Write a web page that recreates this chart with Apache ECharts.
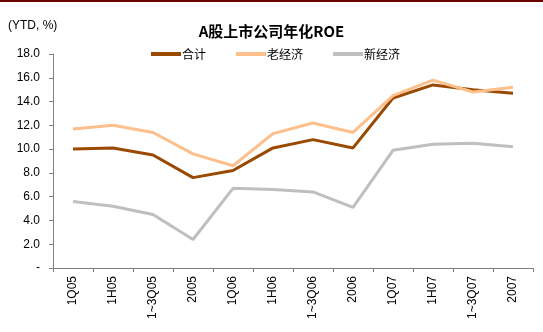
<!DOCTYPE html>
<html>
<head>
<meta charset="utf-8">
<script src="https://cdn.jsdelivr.net/npm/echarts@6/dist/echarts.min.js"></script>
<style>
  html, body { margin: 0; padding: 0; background: #fff; }
  #chart { width: 543px; height: 332px; }
</style>
</head>
<body>
<div id="chart"></div>
<script>
// Periods (year-to-date)
var categories = ['1Q05', '1H05', '1~3Q05', '2005', '1Q06', '1H06', '1~3Q06', '2006', '1Q07', '1H07', '1~3Q07', '2007'];

// Annualised ROE, %
var totalRoe = [10.0, 10.1, 9.5, 7.6, 8.2, 10.1, 10.8, 10.1, 14.3, 15.4, 15.0, 14.7];
var oldEconomyRoe = [11.7, 12.0, 11.4, 9.6, 8.6, 11.3, 12.2, 11.4, 14.5, 15.8, 14.8, 15.2];
var newEconomyRoe = [5.6, 5.2, 4.5, 2.4, 6.7, 6.6, 6.4, 5.1, 9.9, 10.4, 10.5, 10.2];

var seriesNames = ['合计', '老经济', '新经济'];
var seriesColors = ['#994a00', '#fdbf8c', '#bfbfbf'];

var yMin = 0, yMax = 18, yStep = 2;

var chart = echarts.init(document.getElementById('chart'));
var baseFont = '"Liberation Sans", Arial, sans-serif';
var cjkFont = '"Noto Sans CJK SC", sans-serif';

function makeSeries(name, data, color) {
  return {
    name: name,
    type: 'line',
    data: data,
    symbol: 'none',
    lineStyle: { color: color, width: 3 },
    itemStyle: { color: color },
    animation: false
  };
}

chart.setOption({
  animation: false,
  graphic: [
    { type: 'rect', shape: { x: 0, y: 0, width: 543, height: 2 }, style: { fill: '#6b0000' } },
    { type: 'text', left: 8, top: 20, style: { text: '(YTD, %)', font: '12px ' + baseFont, fill: '#000' } }
  ],
  title: {
    text: 'A股上市公司年化ROE',
    left: 'center',
    top: 19,
    textStyle: { fontSize: 15, fontWeight: 'bold', color: '#000', fontFamily: cjkFont }
  },
  legend: {
    left: 146,
    top: 43,
    itemWidth: 30,
    itemHeight: 4,
    itemGap: 30,
    icon: 'rect',
    data: seriesNames,
    textStyle: { fontSize: 12, color: '#000', fontFamily: cjkFont, padding: [0, 0, 0, -4] }
  },
  grid: { left: 53, right: 10, top: 54, bottom: 64 },
  xAxis: {
    type: 'category',
    data: categories,
    boundaryGap: true,
    axisLine: { lineStyle: { color: '#808080', width: 1 } },
    axisTick: { show: true, length: 4, alignWithLabel: false, lineStyle: { color: '#808080' } },
    axisLabel: { rotate: 90, interval: 0, fontSize: 12, color: '#000', fontFamily: baseFont, margin: 8 },
    splitLine: { show: false }
  },
  yAxis: {
    type: 'value',
    min: yMin,
    max: yMax,
    interval: yStep,
    axisLine: { show: true, lineStyle: { color: '#808080', width: 1 } },
    axisTick: { show: true, length: 4, lineStyle: { color: '#808080' } },
    axisLabel: {
      fontSize: 12,
      color: '#000',
      fontFamily: baseFont,
      margin: 13,
      formatter: function (v) { return v === 0 ? '-' : v.toFixed(1); }
    },
    splitLine: { show: false }
  },
  series: [
    makeSeries(seriesNames[0], totalRoe, seriesColors[0]),
    makeSeries(seriesNames[1], oldEconomyRoe, seriesColors[1]),
    makeSeries(seriesNames[2], newEconomyRoe, seriesColors[2])
  ]
});
</script>
</body>
</html>
